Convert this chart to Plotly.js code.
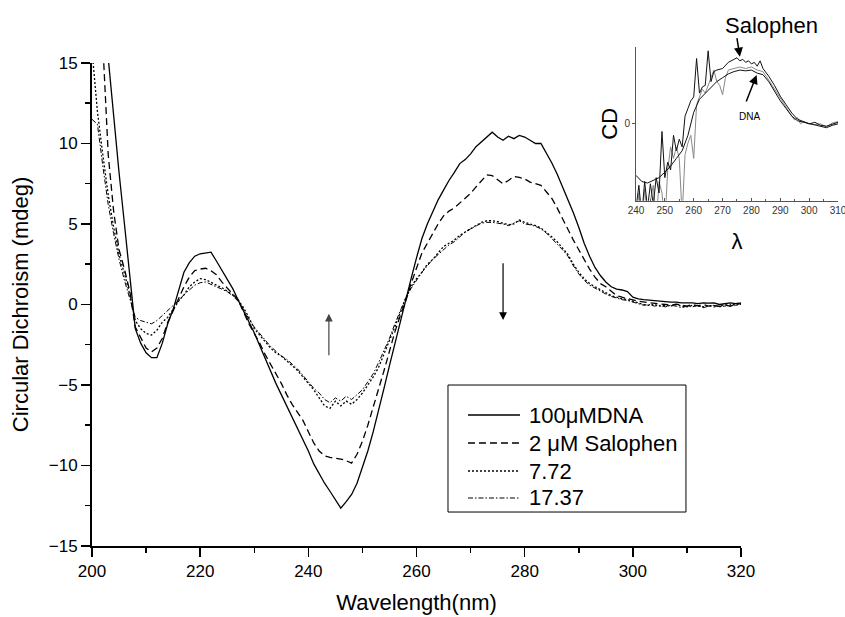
<!DOCTYPE html>
<html>
<head>
<meta charset="utf-8">
<script src="https://cdn.plot.ly/plotly-3.0.1.min.js"></script>
<style>
html,body{margin:0;padding:0;background:#fff;}
#chart{width:845px;height:617px;}
</style>
</head>
<body>
<div id="chart"></div>
<script>
// ---- main chart data ----
const wavelength = [
200,201,202,203,204,205,206,207,208,209,
210,211,212,213,214,215,216,217,218,219,
220,221,222,223,224,225,226,227,228,229,
230,231,232,233,234,235,236,237,238,239,
240,241,242,243,244,245,246,247,248,249,
250,251,252,253,254,255,256,257,258,259,
260,261,262,263,264,265,266,267,268,269,
270,271,272,273,274,275,276,277,278,279,
280,281,282,283,284,285,286,287,288,289,
290,291,292,293,294,295,296,297,298,299,
300,301,302,303,304,305,306,307,308,309,
310,311,312,313,314,315,316,317,318,319,
320];

const dna100 = [
28.0,23.5,19.3,15.3,11.6,8.2,5.0,1.9,-1.5,-2.4,
-3.0,-3.3,-3.3,-2.4,-1.2,-0.3,0.9,2.0,2.6,3.0,
3.15,3.2,3.25,2.7,2.15,1.6,1.0,0.3,-0.4,-1.0,
-1.75,-2.55,-3.35,-4.15,-4.9,-5.6,-6.3,-7.0,-7.6,-8.3,
-9.1,-9.9,-10.5,-11.1,-11.6,-12.1,-12.65,-12.25,-11.8,-11.1,
-10.1,-9.1,-7.9,-6.6,-5.2,-3.8,-2.4,-1.0,0.35,1.6,
2.9,4.1,5.0,5.8,6.5,7.1,7.7,8.2,8.75,9.0,
9.35,9.8,10.1,10.35,10.7,10.4,10.2,10.45,10.3,10.5,
10.4,10.2,10.0,10.0,9.4,8.8,8.1,7.3,6.6,5.7,
4.8,3.8,3.0,2.3,1.8,1.4,1.1,0.95,0.9,0.8,
0.45,0.35,0.3,0.28,0.25,0.2,0.18,0.15,0.15,0.1,
0.12,0.1,0.05,0.1,0.08,0.1,0.0,0.05,0.1,0.05,
0.08];

const salophen2 = [
30.0,23.0,16.8,9.3,5.8,3.4,2.2,0.8,-1.4,-2.1,
-2.7,-2.95,-2.7,-2.1,-1.1,-0.4,0.4,1.1,1.7,2.1,
2.2,2.25,2.1,1.85,1.4,1.0,0.65,0.3,-0.5,-1.2,
-1.8,-2.4,-3.1,-3.7,-4.3,-4.9,-5.6,-6.2,-6.7,-7.2,
-7.9,-8.6,-9.1,-9.4,-9.5,-9.55,-9.6,-9.7,-9.85,-9.3,
-8.5,-7.5,-6.4,-5.3,-4.1,-2.9,-1.7,-0.7,0.2,1.3,
2.2,3.2,3.8,4.4,5.0,5.5,5.8,6.0,6.3,6.6,
6.9,7.3,7.7,8.05,8.0,7.75,7.5,7.7,7.95,7.9,
7.8,7.6,7.5,7.4,7.0,6.6,6.0,5.3,4.7,4.0,
3.4,2.8,2.2,1.7,1.3,1.1,0.8,0.55,0.45,0.35,
0.28,0.2,0.15,0.1,0.05,0.03,0.0,-0.05,0.02,-0.05,
-0.1,0.0,-0.08,0.0,-0.1,-0.05,-0.12,-0.05,-0.1,0.0,
0.05];

const salophen772 = [
15.8,12.0,9.3,6.8,4.8,3.1,1.9,0.6,-1.0,-1.5,
-1.8,-1.9,-1.6,-1.1,-0.8,-0.3,0.2,0.6,1.1,1.4,
1.6,1.55,1.4,1.2,1.05,0.85,0.6,0.3,-0.2,-0.8,
-1.5,-1.9,-2.3,-2.7,-3.0,-3.2,-3.5,-3.8,-4.1,-4.5,
-4.9,-5.3,-5.8,-6.3,-6.45,-6.0,-6.3,-6.0,-6.2,-5.9,
-5.5,-5.0,-4.5,-3.9,-3.1,-2.3,-1.4,-0.5,0.4,1.1,
1.6,2.0,2.5,2.8,3.2,3.6,3.8,4.0,4.3,4.5,
4.75,4.95,5.1,5.2,5.2,5.15,5.05,4.95,5.0,5.25,
5.1,5.0,4.9,4.75,4.5,4.2,3.9,3.5,3.1,2.5,
2.0,1.6,1.3,1.1,0.9,0.75,0.55,0.45,0.35,0.3,
0.2,0.1,0.0,-0.05,0.0,-0.1,-0.05,-0.1,0.0,-0.1,
-0.15,-0.05,-0.1,-0.15,-0.05,-0.15,-0.1,0.0,-0.1,0.05,
0.1];

const salophen1737 = [
11.5,11.2,8.6,6.2,4.4,2.8,1.5,0.3,-0.8,-1.0,
-1.1,-1.2,-1.0,-0.7,-0.4,-0.1,0.25,0.6,0.9,1.2,
1.35,1.4,1.25,1.1,0.95,0.8,0.55,0.2,-0.3,-0.9,
-1.4,-1.8,-2.2,-2.6,-2.9,-3.2,-3.4,-3.7,-4.0,-4.4,
-4.8,-5.2,-5.5,-5.9,-6.1,-5.8,-6.0,-5.7,-5.9,-5.6,
-5.3,-4.8,-4.3,-3.6,-2.9,-2.1,-1.2,-0.4,0.4,1.0,
1.5,2.0,2.4,2.8,3.1,3.4,3.7,3.9,4.2,4.5,
4.7,4.9,5.05,5.1,5.1,5.05,5.0,4.9,5.05,5.2,
5.0,4.95,4.85,4.7,4.45,4.1,3.8,3.4,3.0,2.4,
1.9,1.5,1.2,1.0,0.8,0.65,0.5,0.4,0.3,0.25,
0.15,0.05,-0.05,0.0,-0.1,-0.05,-0.15,-0.05,-0.1,-0.2,
-0.1,-0.15,-0.05,-0.2,-0.1,-0.05,-0.15,-0.1,0.0,-0.05,
0.0];

const seriesNames = ['100\u03bcMDNA', '2 \u03bcM Salophen', '7.72', '17.37'];
const xTickVals = [200, 220, 240, 260, 280, 300, 320];
const yTickVals = [-15, -10, -5, 0, 5, 10, 15];

// ---- inset data ----
const insetTickVals = [240, 250, 260, 270, 280, 290, 300, 310];
const insetDnaX = [240,242,244,246,248,250,252,254,256,258,260,262,264,266,268,270,272,274,276,278,280,282,284,286,288,290,292,294,296,298,300,302,304,306,308,310];
const insetDnaY = [-0.67,-0.75,-0.77,-0.74,-0.7,-0.63,-0.55,-0.45,-0.35,-0.15,0.15,0.32,0.4,0.47,0.55,0.6,0.65,0.68,0.7,0.69,0.7,0.66,0.64,0.55,0.43,0.3,0.2,0.1,0.04,0.02,0.0,-0.02,-0.03,-0.05,-0.02,0.0];

const insetSalX = [240,241,242,243,244,245,246,247,248,249,250,251,252,253,254,255,256,257,258,259,260,261,262,263,264,265,266,267,268,270,272,274,275,276,277,278,279,280,281,282,283,284,286,288,290,292,294,296,298,300,302,304,306,308,310];
const insetSalY = [-1.1,-0.8,-1.2,-0.75,-1.1,-0.78,-1.05,-0.7,-0.9,-0.1,-0.7,-0.5,-0.6,-0.15,-0.35,-0.2,-0.3,0.1,0.2,0.3,0.35,0.85,0.4,0.48,0.5,0.95,0.55,0.68,0.7,0.72,0.8,0.84,0.86,0.82,0.84,0.8,0.82,0.78,0.8,0.75,0.82,0.72,0.62,0.5,0.36,0.25,0.14,0.06,0.03,0.0,0.02,-0.02,-0.03,0.0,0.02];

const insetThirdX = [240,241,242,243,244,245,246,247,248,249,250,251,252,253,254,255,256,257,258,259,260,261,262,263,264,265,266,267,268,269,270,271,272,274,276,278,280,282,284,286,288,290,292,294,295,296,297,298,300,302,304,306,308,310];
const insetThirdY = [-1.3,-0.9,-1.3,-0.85,-1.2,-1.0,-0.8,-1.3,-0.75,-0.9,-1.3,-0.6,-0.3,-0.45,-0.3,-0.45,-1.2,-0.4,-0.25,-0.15,-0.45,0.25,0.35,0.45,0.4,0.5,0.6,0.7,0.55,0.5,0.38,0.6,0.7,0.72,0.74,0.72,0.74,0.7,0.68,0.57,0.45,0.33,0.22,0.1,0.05,0.08,0.0,0.03,0.0,-0.01,0.0,-0.04,0.01,0.03];

const FONT = 'Liberation Sans, Arial, Helvetica, sans-serif';

const mainStyles = [
  {color:'#000', width:1.3, dash:'solid'},
  {color:'#000', width:1.3, dash:'7px,4px'},
  {color:'#000', width:1.3, dash:'2px,2px'},
  {color:'#000', width:1.0, dash:'5px,2px,1.5px,2px'}
];
const mainSeries = [dna100, salophen2, salophen772, salophen1737];

const data = mainSeries.map((ys, i) => ({
  type:'scatter', mode:'lines', x: wavelength, y: ys,
  name: seriesNames[i], line: mainStyles[i], xaxis:'x', yaxis:'y', showlegend:false
}));

data.push({type:'scatter', mode:'lines', x: insetThirdX, y: insetThirdY, xaxis:'x2', yaxis:'y2', showlegend:false, line:{color:'#888', width:1}});
data.push({type:'scatter', mode:'lines', x: insetDnaX, y: insetDnaY, xaxis:'x2', yaxis:'y2', showlegend:false, line:{color:'#111', width:1}});
data.push({type:'scatter', mode:'lines', x: insetSalX, y: insetSalY, xaxis:'x2', yaxis:'y2', showlegend:false, line:{color:'#111', width:1}});

// ---- legend box drawn in paper space ----
const legX0 = 0.4772, legX1 = 0.7962, legY0 = 0.0681, legY1 = 0.3226;
const legRows = [0.2625, 0.2064, 0.1503, 0.0962];
const shapes = [{type:'rect', xref:'paper', yref:'paper', x0:legX0, x1:legX1, y0:legY0, y1:legY1, line:{color:'#000', width:1}, fillcolor:'rgba(0,0,0,0)'}];
const annotations = [];
seriesNames.forEach((nm, i) => {
  shapes.push({type:'line', xref:'paper', yref:'paper', x0:0.5040, x1:0.5737, y0:legRows[i], y1:legRows[i], line:{color:'#000', width:mainStyles[i].width, dash:mainStyles[i].dash}});
  annotations.push({xref:'paper', yref:'paper', x:0.5831, y:legRows[i], xanchor:'left', yanchor:'middle', text:nm, showarrow:false, font:{size:22, color:'#000'}});
});

annotations.push(
  {xref:'x', yref:'y', x:243.8, y:-0.58, axref:'x', ayref:'y', ax:243.8, ay:-3.25, text:'', showarrow:true, arrowhead:2, arrowsize:1.3, arrowwidth:1.2, arrowcolor:'#444'},
  {xref:'x', yref:'y', x:276, y:-0.96, axref:'x', ayref:'y', ax:276, ay:2.65, text:'', showarrow:true, arrowhead:2, arrowsize:1.3, arrowwidth:1.2, arrowcolor:'#000'},
  {xref:'paper', yref:'paper', x:0.9115, y:1.044, xanchor:'center', yanchor:'middle', text:'Salophen', showarrow:false, font:{size:22, color:'#000'}},
  {xref:'x2', yref:'y2', x:276.0, y:0.874, axref:'x2', ayref:'y2', ax:274.9, ay:1.134, text:'', showarrow:true, arrowhead:2, arrowsize:1.2, arrowwidth:1.5, arrowcolor:'#000'},
  {xref:'x2', yref:'y2', x:281.8, y:0.636, axref:'x2', ayref:'y2', ax:278.0, ay:0.272, text:'', showarrow:true, arrowhead:2, arrowsize:1.2, arrowwidth:1.5, arrowcolor:'#000'},
  {xref:'x2', yref:'y2', x:279.2, y:0.09, xanchor:'center', yanchor:'middle', text:'DNA', showarrow:false, font:{size:10, color:'#000'}}
);

const layout = {
  width:845, height:617,
  margin:{l:92, r:7, t:47, b:71},
  paper_bgcolor:'#fff', plot_bgcolor:'rgba(0,0,0,0)',
  font:{family:FONT, color:'#000'},
  showlegend:false,
  xaxis:{
    domain:[0, 0.87], range:[200, 320], tickvals:xTickVals,
    ticks:'outside', ticklen:9, tickwidth:1.5, tickcolor:'#000',
    showline:true, linewidth:2, linecolor:'#000', showgrid:false, zeroline:false,
    tickfont:{size:17}, minor:{dtick:10, tick0:200, ticks:'outside', ticklen:5, tickwidth:1.5, tickcolor:'#000', showgrid:false},
    title:{text:'Wavelength(nm)', font:{size:22}, standoff:14}
  },
  yaxis:{
    domain:[0, 0.968], range:[-15, 15], tickvals:yTickVals,
    ticks:'outside', ticklen:9, tickwidth:1.5, tickcolor:'#000',
    showline:true, linewidth:2, linecolor:'#000', showgrid:false, zeroline:false,
    tickfont:{size:17}, minor:{dtick:2.5, tick0:-15, ticks:'outside', ticklen:5, tickwidth:1.5, tickcolor:'#000', showgrid:false},
    title:{text:'Circular Dichroism (mdeg)', font:{size:22}, standoff:14}
  },
  xaxis2:{
    anchor:'y2', domain:[0.7292, 1], range:[240, 310], tickvals:insetTickVals,
    ticks:'inside', ticklen:3, tickwidth:1, tickcolor:'#555',
    showline:true, linewidth:1, linecolor:'#555', showgrid:false, zeroline:false,
    tickfont:{size:10, color:'#333'}, ticklabeloverflow:'allow',
    minor:{dtick:5, tick0:240, ticks:'inside', ticklen:2, tickcolor:'#555', showgrid:false},
    title:{text:'\u03bb', font:{size:22}, standoff:18}
  },
  yaxis2:{
    anchor:'x2', domain:[0.692, 1], range:[-1, 1],
    tickvals:[0], ticktext:['0'],
    ticks:'outside', ticklen:3, tickwidth:1, tickcolor:'#555',
    showline:true, linewidth:1, linecolor:'#555', showgrid:false, zeroline:false,
    tickfont:{size:10, color:'#333'},
    title:{text:'CD', font:{size:22}, standoff:0}
  },
  shapes: shapes,
  annotations: annotations
};

Plotly.newPlot('chart', data, layout, {staticPlot:true, displayModeBar:false});
</script>
</body>
</html>
